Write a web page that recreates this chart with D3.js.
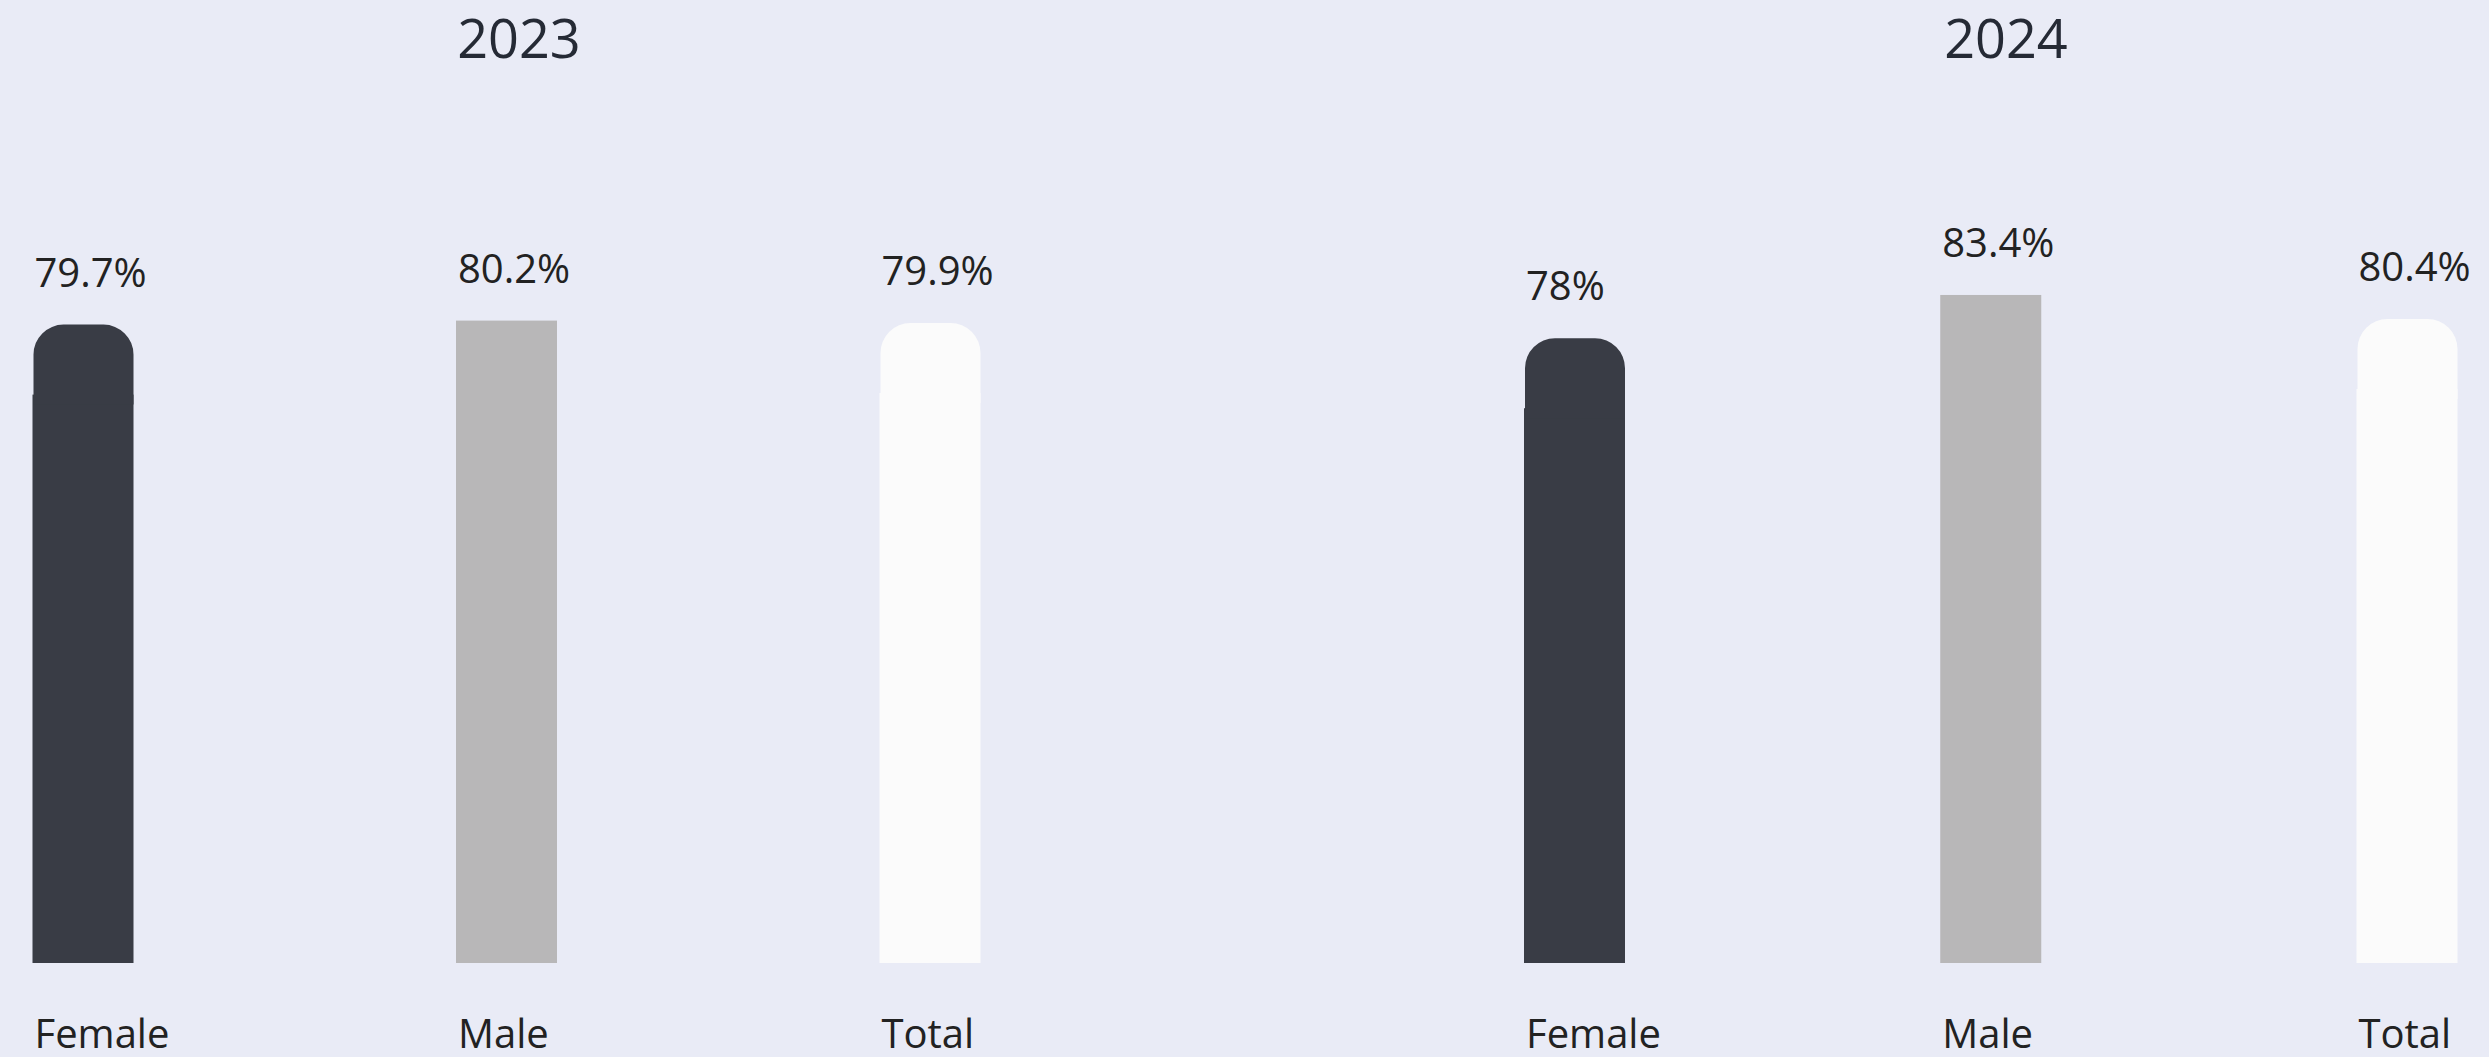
<!DOCTYPE html>
<html>
<head>
<meta charset="utf-8">
<script src="https://cdn.jsdelivr.net/npm/d3@7"></script>
<style>
  html, body { margin: 0; padding: 0; background: #e9ebf6; }
  svg { display: block; font-family: "Open Sans", "Noto Sans", sans-serif; }
</style>
</head>
<body>
<svg id="chart" width="2489" height="1057"></svg>
<script>
const years = ['2023', '2024']
const categories = ['Female', 'Male', 'Total']
const values2023 = [79.7, 80.2, 79.9]
const values2024 = [78, 83.4, 80.4]
const labels2023 = ['79.7%', '80.2%', '79.9%']
const labels2024 = ['78%', '83.4%', '80.4%']

const W = 2489, H = 1057
const barW = 101
const radius = 30
const colors = { Female: '#393c45', Male: '#b8b7b8', Total: '#fbfbfb' }
const rounded = { Female: true, Male: false, Total: true }

const svg = d3.select('#chart')

const y = d3.scaleLinear().domain([0, 100]).range([963, 162])

const panels = [
  { year: years[0], values: values2023, labels: labels2023,
    x: d3.scalePoint().domain(categories).range([83, 930]), titleX: 519 },
  { year: years[1], values: values2024, labels: labels2024,
    x: d3.scalePoint().domain(categories).range([1574.5, 2407]), titleX: 2006 }
]

// bar with rounded top corners
const topRounded = (x0, y0, w, y1, r) => {
  const p = d3.path()
  p.moveTo(x0, y1)
  p.lineTo(x0, y0 + r)
  p.arcTo(x0, y0, x0 + r, y0, r)
  p.lineTo(x0 + w - r, y0)
  p.arcTo(x0 + w, y0, x0 + w, y0 + r, r)
  p.lineTo(x0 + w, y1)
  p.closePath()
  return p.toString()
}

panels.forEach(panel => {
  const g = svg.append('g')
  const rows = categories.map((c, i) => ({ cat: c, v: panel.values[i], label: panel.labels[i] }))
  const left = d => panel.x(d.cat) - barW / 2

  g.append('text')
    .attr('x', panel.titleX)
    .attr('y', 58)
    .attr('text-anchor', 'middle')
    .attr('font-size', 54)
    .attr('fill', '#252a35')
    .text(panel.year)

  // lower square part
  g.selectAll('rect.base')
    .data(rows)
    .enter()
    .append('rect')
    .attr('class', 'base')
    .attr('x', left)
    .attr('width', barW)
    .attr('y', d => rounded[d.cat] ? y(d.v) + 70 : y(d.v))
    .attr('height', d => rounded[d.cat] ? y(0) - y(d.v) - 70 : y(0) - y(d.v))
    .attr('fill', d => colors[d.cat])

  // rounded tops
  g.selectAll('path.top')
    .data(rows.filter(d => rounded[d.cat]))
    .enter()
    .append('path')
    .attr('class', 'top')
    .attr('d', d => topRounded(left(d) + 1, y(d.v), barW - 1, y(d.v) + 80, radius))
    .attr('fill', d => colors[d.cat])

  g.selectAll('text.value')
    .data(rows)
    .enter()
    .append('text')
    .attr('class', 'value')
    .attr('x', d => left(d) + 2)
    .attr('y', d => y(d.v) - 38)
    .attr('font-size', 40)
    .attr('fill', '#222')
    .text(d => d.label)

  g.selectAll('text.cat')
    .data(rows)
    .enter()
    .append('text')
    .attr('class', 'cat')
    .attr('x', d => left(d) + 2)
    .attr('y', 1048)
    .attr('font-size', 40)
    .attr('fill', '#222')
    .text(d => d.cat)
})
</script>
</body>
</html>
